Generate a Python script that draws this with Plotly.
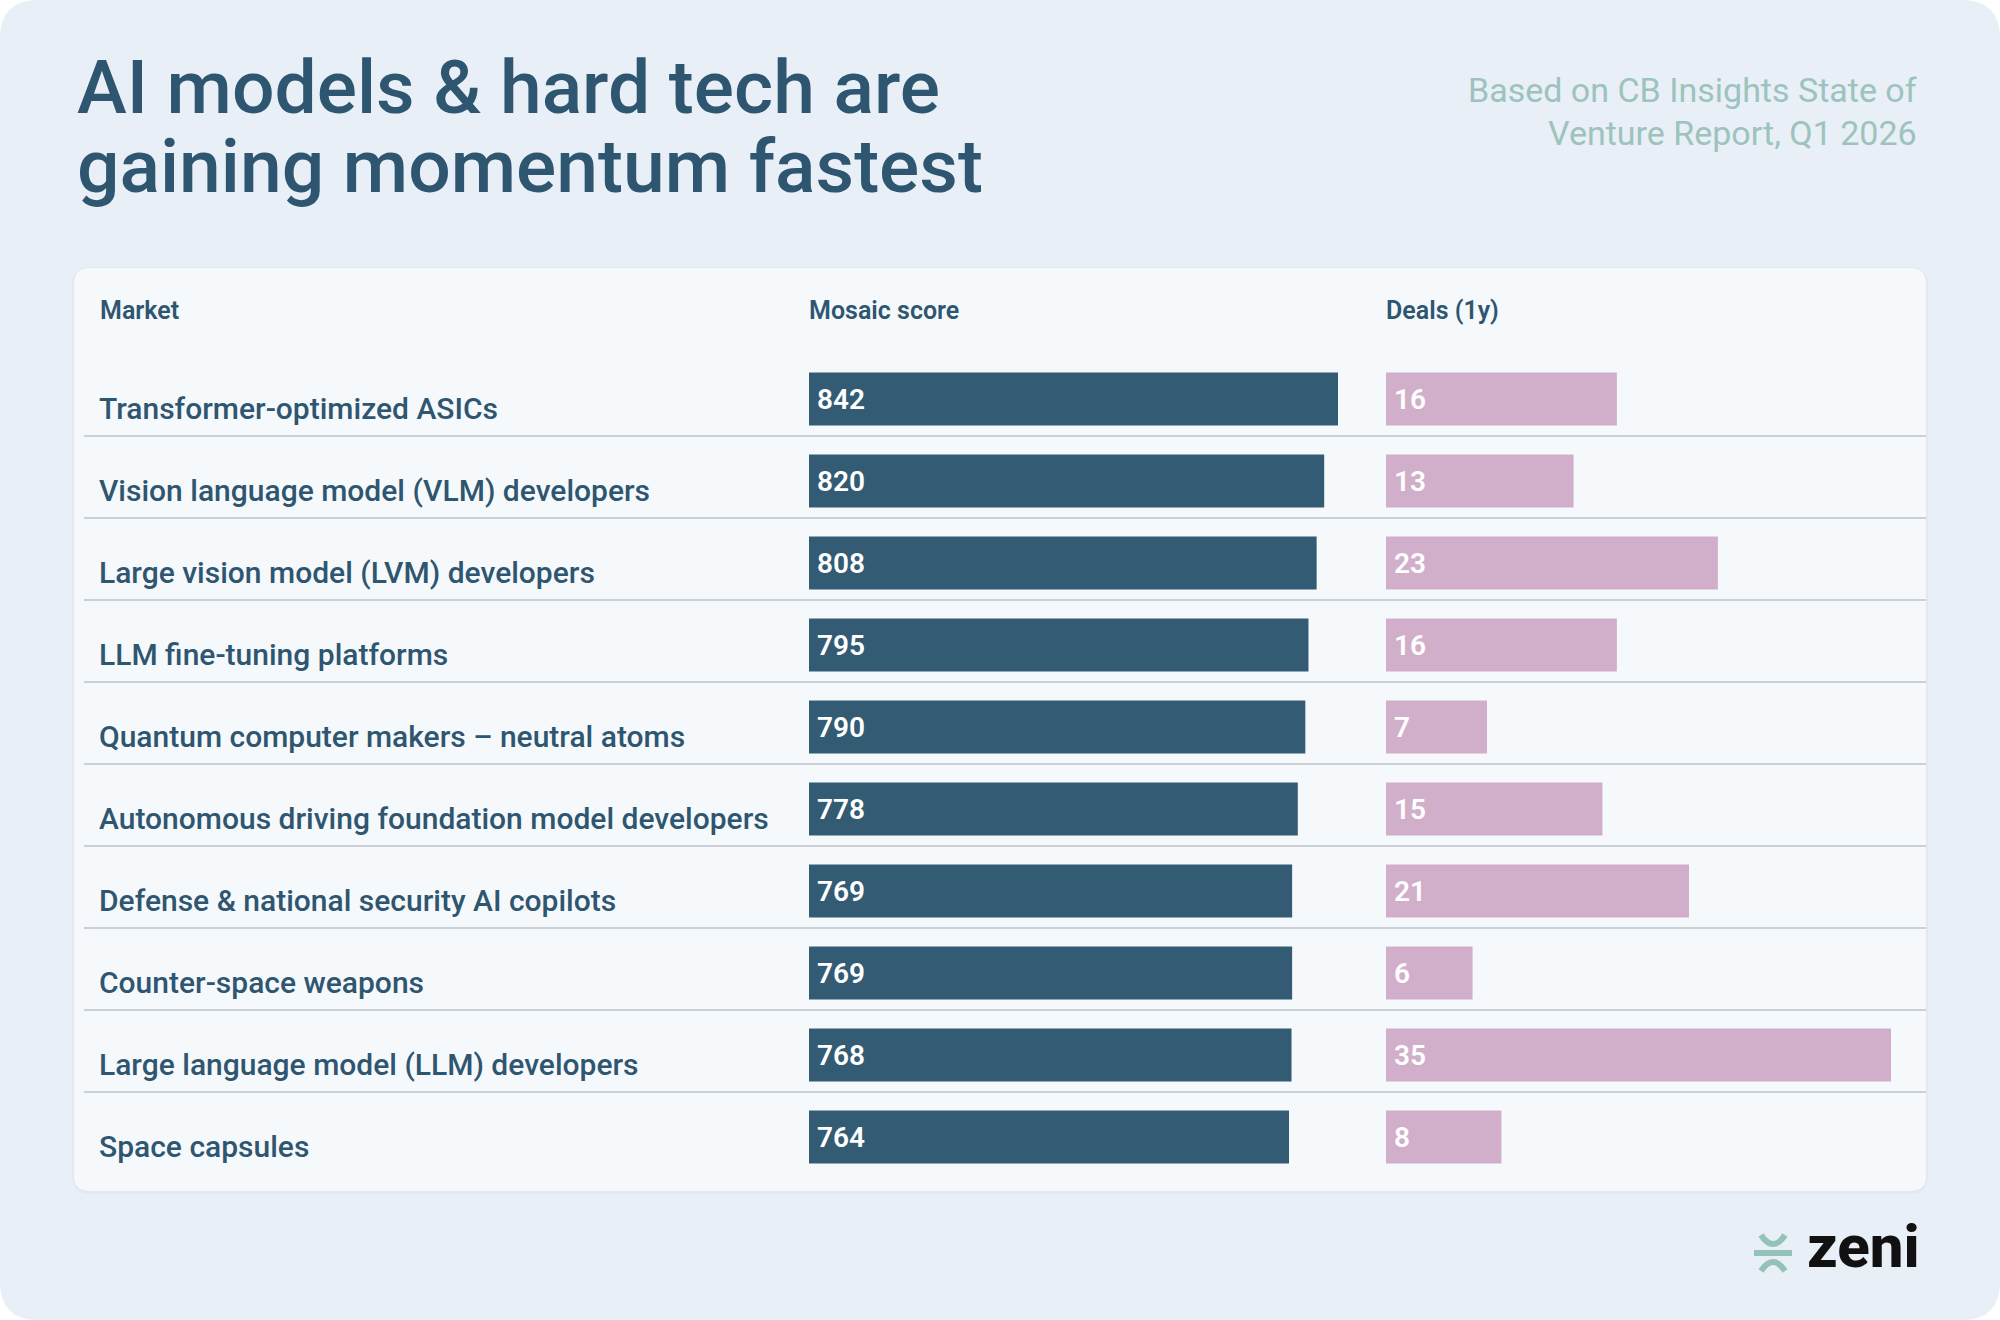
import plotly.graph_objects as go

# ---------------- data ----------------
markets = [
    "Transformer-optimized ASICs",
    "Vision language model (VLM) developers",
    "Large vision model (LVM) developers",
    "LLM fine-tuning platforms",
    "Quantum computer makers – neutral atoms",
    "Autonomous driving foundation model developers",
    "Defense & national security AI copilots",
    "Counter-space weapons",
    "Large language model (LLM) developers",
    "Space capsules",
]
mosaic_scores = [842, 820, 808, 795, 790, 778, 769, 769, 768, 764]
deals_1y = [16, 13, 23, 16, 7, 15, 21, 6, 35, 8]

column_headers = ["Market", "Mosaic score", "Deals (1y)"]
title_lines = ["AI models & hard tech are", "gaining momentum fastest"]
subtitle_lines = ["Based on CB Insights State of", "Venture Report, Q1 2026"]
brand = "zeni"

# ---------------- style ----------------
W, H = 2000, 1320
OFF = 0  # page margin removed by post_script below
FONT = "Roboto"
DARK = "#2f5670"
BAR_DARK = "#335c74"
BAR_PINK = "#d1afca"
BG = "#e9eff6"
CARD = "#f6f9fc"
SEP = "#cbd0d6"
SUB = "#9cc3bd"
TEAL = "#94c2bb"


def px(x):
    return (x - OFF) / W


def py(y):
    return 1 - (y - OFF) / H


def rounded_rect(x0, y0, x1, y1, r):
    a, b, c, d = px(x0), py(y0), px(x1), py(y1)
    rx, ry = r / W, r / H
    return (f"M {a+rx},{b} L {c-rx},{b} Q {c},{b} {c},{b-ry} "
            f"L {c},{d+ry} Q {c},{d} {c-rx},{d} L {a+rx},{d} "
            f"Q {a},{d} {a},{d+ry} L {a},{b-ry} Q {a},{b} {a+rx},{b} Z")


fig = go.Figure()

fig.add_trace(go.Bar(
    y=markets, x=mosaic_scores, orientation="h",
    marker=dict(color=BAR_DARK, line=dict(width=0)),
    width=0.646, xaxis="x", yaxis="y", hoverinfo="skip", showlegend=False,
))
fig.add_trace(go.Bar(
    y=markets, x=deals_1y, orientation="h",
    marker=dict(color=BAR_PINK, line=dict(width=0)),
    width=0.646, xaxis="x2", yaxis="y", hoverinfo="skip", showlegend=False,
))

shapes = []
shapes.append(dict(type="path", xref="paper", yref="paper",
                   path=rounded_rect(0, 0, W, H, 38), fillcolor=BG,
                   line=dict(width=0), layer="below"))
shapes.append(dict(type="path", xref="paper", yref="paper",
                   path=rounded_rect(72, 267, 1928, 1194, 18), fillcolor="#e3e9f1",
                   line=dict(width=0), layer="below"))
shapes.append(dict(type="path", xref="paper", yref="paper",
                   path=rounded_rect(74, 268, 1926, 1191, 16), fillcolor=CARD,
                   line=dict(width=0), layer="below"))
for i in range(len(markets) - 1):
    shapes.append(dict(type="line", xref="paper", yref="y",
                       x0=px(84), x1=px(1926), y0=i + 0.45, y1=i + 0.45,
                       line=dict(color=SEP, width=2), layer="below"))
# logo icon
shapes.append(dict(type="rect", xref="paper", yref="paper",
                   x0=px(1754), x1=px(1792), y0=py(1256), y1=py(1250),
                   fillcolor=TEAL, line=dict(width=0)))
shapes.append(dict(type="path", xref="paper", yref="paper",
                   path=f"M {px(1761)},{py(1235)} Q {px(1773)},{py(1253)} {px(1785)},{py(1235)}",
                   line=dict(color=TEAL, width=6)))
shapes.append(dict(type="path", xref="paper", yref="paper",
                   path=f"M {px(1761)},{py(1271)} Q {px(1773)},{py(1253)} {px(1785)},{py(1271)}",
                   line=dict(color=TEAL, width=6)))

ann = []
for line, yc in zip(title_lines, [87, 166]):
    ann.append(dict(text=line, xref="paper", yref="paper", x=px(75), y=py(yc),
                    xanchor="left", yanchor="middle", showarrow=False,
                    font=dict(family=FONT, size=75, color=DARK, weight=500)))
for line, yc in zip(subtitle_lines, [90, 133]):
    ann.append(dict(text=line, xref="paper", yref="paper", x=px(1919), y=py(yc),
                    xanchor="right", yanchor="middle", showarrow=False,
                    font=dict(family=FONT, size=34, color=SUB, weight=400)))
for h, xh in zip(column_headers, [98, 807, 1384]):
    ann.append(dict(text=h, xref="paper", yref="paper", x=px(xh), y=py(310),
                    xanchor="left", yanchor="middle", showarrow=False,
                    font=dict(family=FONT, size=25, color=DARK, weight=600)))
for m, s, d in zip(markets, mosaic_scores, deals_1y):
    ann.append(dict(text=m, xref="paper", yref="y", x=px(97), y=m, yshift=-9,
                    xanchor="left", yanchor="middle", showarrow=False,
                    font=dict(family=FONT, size=30, color=DARK, weight=500)))
    ann.append(dict(text=str(s), xref="x", yref="y", x=0, y=m, xshift=6,
                    xanchor="left", yanchor="middle", showarrow=False,
                    font=dict(family=FONT, size=28, color="white", weight=600)))
    ann.append(dict(text=str(d), xref="x2", yref="y", x=0, y=m, xshift=6,
                    xanchor="left", yanchor="middle", showarrow=False,
                    font=dict(family=FONT, size=28, color="white", weight=600)))
ann.append(dict(text=brand, xref="paper", yref="paper", x=px(1922), y=py(1246),
                xanchor="right", yanchor="middle", showarrow=False,
                font=dict(family=FONT, size=60, color="#111111", weight=800)))

fig.update_layout(
    width=W, height=H,
    margin=dict(l=0, r=0, t=0, b=0),
    paper_bgcolor="white", plot_bgcolor="rgba(0,0,0,0)",
    bargap=0.354,
    xaxis=dict(domain=[px(809), px(1338)], range=[0, 842], visible=False,
               fixedrange=True, anchor="y"),
    xaxis2=dict(domain=[px(1386), px(1891)], range=[0, 35], visible=False,
                fixedrange=True, anchor="y"),
    yaxis=dict(domain=[py(1178), py(358)], categoryorder="array",
               categoryarray=markets, range=[len(markets) - 0.5, -0.5],
               visible=False, fixedrange=True),
    shapes=shapes,
    annotations=ann,
)

fig.write_html("out.html",
               config={"displayModeBar": False},
               post_script="document.body.style.margin='0';document.body.style.overflow='hidden';")
